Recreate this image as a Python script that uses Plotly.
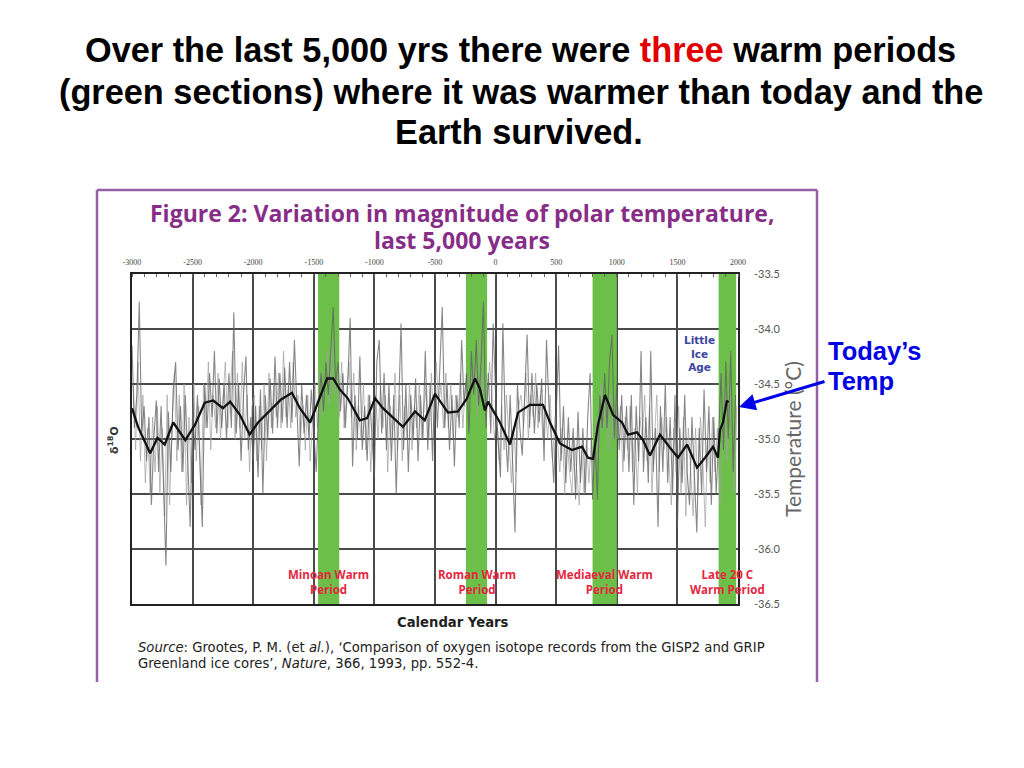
import plotly.graph_objects as go

# ---------------- data ----------------
raw_years = list(range(-3000, 2000, 20))
raw_temp = [
    -34.15, -34.9, -34.6, -33.75, -34.95, -34.7, -35.2, -34.8, -35.6, -35.0,
    -34.65, -35.3, -34.7, -35.4, -36.15, -34.75, -35.3, -34.55, -34.3, -35.1,
    -34.7, -35.3, -34.6, -35.2, -35.8, -34.75, -35.1, -34.6, -35.3, -35.8,
    -34.5, -34.9, -34.4, -34.8, -34.2, -34.95, -34.45, -34.9, -34.5, -35.0,
    -34.4, -34.9, -33.85, -34.95, -34.5, -35.2, -34.6, -34.25, -35.1, -34.8,
    -35.2, -34.7, -35.35, -34.55, -35.5, -34.6, -35.0, -34.45, -34.95, -34.25,
    -34.9, -34.4, -34.85, -34.35, -34.9, -34.3, -34.85, -34.1, -34.7, -35.25,
    -34.5, -34.95, -34.6, -35.0, -34.55, -34.9, -35.3, -34.7, -34.4, -34.75,
    -34.3, -34.6, -34.2, -33.8, -34.5, -34.3, -34.75, -34.4, -34.9, -34.5,
    -33.9, -35.25, -34.6, -35.0, -34.25, -35.1, -34.7, -35.2, -34.6, -35.0,
    -35.35, -34.3, -34.1, -34.95, -34.4, -35.1, -34.5, -35.2, -34.6, -35.5,
    -34.7, -33.95, -35.1, -34.5, -35.3, -34.6, -35.0, -34.45, -35.2, -34.6,
    -35.0, -34.2, -35.1, -34.5, -35.2, -34.4, -34.9, -34.3, -33.8, -34.9,
    -34.5, -35.1, -34.6, -35.25, -34.6, -34.9, -34.1, -34.7, -34.4, -34.95,
    -34.2, -34.6, -34.1, -34.7, -34.3, -33.75, -34.9, -34.4, -34.95, -33.95,
    -34.6, -35.0, -35.35, -33.95, -34.9, -35.3, -34.6, -35.2, -35.85, -34.5,
    -34.9, -35.15, -34.5, -34.05, -34.9, -34.4, -34.95, -34.5, -34.85, -34.45,
    -35.2, -34.1, -34.7, -35.0, -35.4, -34.8, -34.15, -35.2, -34.7, -35.4,
    -34.8, -35.3, -34.9, -35.55, -34.75, -35.4, -34.9, -35.5, -34.8, -34.4,
    -35.55, -35.0, -35.55, -34.6, -34.9, -34.4, -34.9, -34.3, -34.05, -35.0,
    -34.5, -35.1, -34.6, -35.2, -34.7, -35.3, -34.6, -35.6, -34.7, -35.2,
    -34.2, -35.3, -34.8, -35.4, -34.2, -35.3, -34.9, -35.8, -34.7, -35.3,
    -34.5, -35.4, -34.8, -35.5, -34.6, -35.8, -34.9, -35.4, -34.6, -35.3,
    -35.6, -34.8, -35.4, -35.85, -34.9, -35.5, -34.55, -35.3, -34.7, -35.6,
    -34.8, -35.5, -35.0, -34.4, -35.1, -34.3, -35.0, -34.2, -35.3, -34.6,
]

raw_years_b = list(range(-2990, 2000, 20))
raw_temp_b = [
    -34.5, -35.1, -34.3, -35.2, -34.6, -35.4, -34.9, -35.5, -34.8, -35.3,
    -34.7, -35.5, -34.9, -35.7, -34.6, -35.6, -34.9, -34.4, -35.2, -34.6,
    -35.3, -34.5, -35.6, -34.8, -35.4, -34.5, -35.2, -34.7, -35.6, -34.5,
    -34.9, -34.3, -35.1, -34.6, -34.9, -34.4, -35.0, -34.6, -34.3, -34.9,
    -34.6, -34.2, -35.0, -34.4, -34.9, -34.3, -35.0, -34.6, -35.3, -34.7,
    -34.6, -35.2, -34.7, -35.1, -34.5, -35.2, -34.4, -34.9, -34.5, -34.8,
    -34.4, -34.9, -34.2, -34.8, -34.5, -34.9, -34.3, -34.8, -34.6, -35.0,
    -34.7, -35.1, -34.6, -35.2, -34.8, -34.5, -34.9, -34.4, -34.8, -34.5,
    -34.2, -34.7, -34.1, -34.6, -34.4, -34.8, -34.3, -34.9, -34.6, -34.3,
    -34.8, -34.4, -35.1, -34.7, -35.0, -34.5, -35.1, -34.6, -35.3, -34.7,
    -34.6, -35.0, -34.5, -34.9, -34.6, -35.3, -34.7, -35.0, -34.4, -35.1,
    -34.6, -35.2, -34.7, -35.0, -34.5, -35.1, -34.7, -34.9, -34.5, -35.0,
    -34.7, -34.5, -35.0, -34.4, -34.9, -34.3, -34.7, -34.5, -34.9, -34.4,
    -34.9, -34.5, -35.0, -34.6, -34.8, -34.4, -34.9, -34.5, -34.7, -34.4,
    -34.5, -34.3, -34.8, -34.1, -34.6, -34.4, -34.7, -34.3, -34.6, -35.0,
    -34.8, -35.2, -34.7, -35.1, -34.6, -35.0, -35.4, -34.9, -35.3, -34.7,
    -34.6, -34.9, -34.4, -35.0, -34.6, -34.8, -34.4, -34.9, -34.6, -35.0,
    -34.7, -35.0, -34.6, -35.2, -34.8, -35.0, -35.3, -34.9, -35.5, -35.0,
    -35.3, -35.5, -35.0, -35.3, -35.6, -35.1, -35.5, -35.0, -35.4, -35.0,
    -35.3, -34.8, -35.2, -34.5, -34.9, -34.6, -35.1, -34.6, -35.0, -34.7,
    -35.0, -34.7, -35.3, -34.8, -35.1, -34.7, -35.3, -34.9, -35.5, -34.8,
    -35.0, -34.6, -35.2, -34.7, -35.5, -35.0, -34.6, -35.3, -34.8, -35.1,
    -34.8, -35.2, -35.6, -34.9, -35.3, -34.7, -35.5, -34.8, -35.7, -34.9,
    -35.3, -35.7, -34.9, -35.5, -34.8, -35.2, -35.8, -35.0, -35.4, -34.8,
    -35.3, -34.9, -35.6, -35.0, -34.6, -35.2, -34.5, -34.9, -35.5, -34.7,
]

smooth_years = [
    -3000, -2950, -2850, -2790, -2730, -2660, -2560, -2480, -2400, -2330,
    -2250, -2190, -2110, -2030, -1960, -1845, -1770, -1680, -1615, -1530,
    -1450, -1390, -1340, -1285, -1220, -1120, -1060, -995, -930, -845,
    -765, -665, -585, -500, -393, -310, -236, -170, -130, -88,
    -63, 36, 119, 185, 284, 391, 449, 531, 630, 713,
    762, 804, 845, 903, 969, 1043, 1093, 1167, 1216, 1274,
    1356, 1439, 1505, 1580, 1662, 1728, 1794, 1835, 1851, 1876,
    1909, 1920,
]
smooth_temp = [
    -34.72, -34.89, -35.13, -34.99, -35.05, -34.85, -35.01, -34.87, -34.67, -34.65,
    -34.72, -34.66, -34.78, -34.96, -34.85, -34.72, -34.64, -34.58, -34.72, -34.85,
    -34.63, -34.45, -34.45, -34.55, -34.63, -34.83, -34.81, -34.63, -34.72, -34.81,
    -34.89, -34.75, -34.83, -34.59, -34.76, -34.75, -34.63, -34.45, -34.54, -34.74,
    -34.66, -34.85, -35.05, -34.76, -34.69, -34.69, -34.85, -35.04, -35.10, -35.07,
    -35.17, -35.18, -34.87, -34.60, -34.78, -34.85, -34.96, -34.94, -35.01, -35.15,
    -34.96, -35.08, -35.17, -35.05, -35.26, -35.17, -35.07, -35.17, -34.92, -34.85,
    -34.65, -34.67,
]

warm_periods = [(-1465, -1290), (-245, -70), (800, 1000), (1840, 1985)]
warm_labels = ["Minoan Warm<br>Period", "Roman Warm<br>Period",
               "Mediaeval Warm<br>Period", "Late 20 C<br>Warm Period"]
x_ticks = list(range(-3000, 2001, 500))
y_ticks = [-33.5, -34.0, -34.5, -35.0, -35.5, -36.0, -36.5]
y_tick_text = ["-33.5", "-34.0", "-34.5", "-35.0", "-35.5", "-36.0", "-36.5"]

# ---------------- figure ----------------
W, H = 1024, 768
OFF = 8  # page margin in the browser
def px(x):
    return (x - OFF) / W
def py(y):
    return 1 - (y - OFF) / H

x_dom = [px(132), px(738)]
y_dom = [py(604), py(274)]

fig = go.Figure()
fig.add_trace(go.Scatter(x=raw_years_b, y=raw_temp_b, mode="lines",
                         line=dict(color="rgba(160,160,160,0.7)", width=1.0),
                         hoverinfo="skip", showlegend=False))
fig.add_trace(go.Scatter(x=raw_years, y=raw_temp, mode="lines",
                         line=dict(color="rgba(95,95,95,0.75)", width=1.1),
                         hoverinfo="skip", showlegend=False))
fig.add_trace(go.Scatter(x=smooth_years, y=smooth_temp, mode="lines",
                         line=dict(color="#111111", width=2.3),
                         hoverinfo="skip", showlegend=False))

shapes = []
for (a, b) in warm_periods:
    shapes.append(dict(type="rect", xref="x", yref="y", x0=a, x1=b, y0=-36.5, y1=-33.5,
                       fillcolor="#6cc04a", line=dict(width=0), layer="between"))
purple = "rgb(150,95,170)"
shapes += [
    dict(type="line", xref="paper", yref="paper", x0=px(97), x1=px(817), y0=py(190), y1=py(190),
         line=dict(color=purple, width=2.5)),
    dict(type="line", xref="paper", yref="paper", x0=px(97), x1=px(97), y0=py(190), y1=py(682),
         line=dict(color=purple, width=2.5)),
    dict(type="line", xref="paper", yref="paper", x0=px(817), x1=px(817), y0=py(190), y1=py(682),
         line=dict(color=purple, width=2.5)),
]

ann = []
def text(t, x, y, font, xanchor="center", yanchor="middle", xref="paper", **kw):
    ann.append(dict(text=t, x=x, y=y, xref=xref, yref="paper", showarrow=False,
                    xanchor=xanchor, yanchor=yanchor, font=font, **kw))

title_font = dict(family="Liberation Sans, Arial", size=34.3, color="black")
text("<b>Over the last 5,000 yrs there were <span style='color:#e00000'>three</span> warm periods</b>",
     px(520), py(50), title_font)
text("<b>(green sections) where it was warmer than today and the</b>", px(521), py(92), title_font)
text("<b>Earth survived.</b>", px(519), py(132), title_font)

inner_purple = "rgb(135,45,135)"
ifont = dict(family="Open Sans", size=23, color=inner_purple)
text("<b>Figure 2: Variation in magnitude of polar temperature,</b>", px(462), py(213), ifont)
text("<b>last 5,000 years</b>", px(462), py(240), ifont)

for (a, b), lab in zip(warm_periods, warm_labels):
    text("<b>" + lab + "</b>", (a + b) / 2, py(582), dict(family="Open Sans", size=11.5, color="rgb(228,38,64)"),
         xref="x", align="center")

text("<b>Little<br>Ice<br>Age</b>", px(699), py(354),
     dict(family="DejaVu Sans", size=10.5, color="rgb(60,70,160)"), align="center")

text("<b>δ<sup>18</sup>O</b>", px(113), py(440), dict(family="DejaVu Sans", size=11, color="#333"), textangle=-90)

text("<b>Calendar Years</b>", px(453), py(622), dict(family="DejaVu Sans", size=13.2, color="#222"))
sfont = dict(family="DejaVu Sans", size=13.2, color="#222")
text("<i>Source</i>: Grootes, P. M. (et <i>al.</i>), ‘Comparison of oxygen isotope records from the GISP2 and GRIP",
     px(136), py(647), sfont, xanchor="left")
text("Greenland ice cores’, <i>Nature</i>, 366, 1993, pp. 552-4.", px(136), py(663), sfont, xanchor="left")

tfont = dict(family="Liberation Sans, Arial", size=25.5, color="rgb(0,0,230)")
text("<b>Today’s</b>", px(826), py(351), tfont, xanchor="left")
text("<b>Temp</b>", px(826), py(381), tfont, xanchor="left")
ann.append(dict(text="", x=px(739), y=py(407), xref="paper", yref="paper",
                ax=87, ay=-26, axref="pixel", ayref="pixel",
                showarrow=True, arrowhead=2, arrowsize=1.1, arrowwidth=3, arrowcolor="rgb(0,0,230)"))

grid_col = "#4a4a4a"
fig.update_layout(
    width=W, height=H,
    margin=dict(l=0, r=0, t=0, b=0),
    paper_bgcolor="white", plot_bgcolor="white",
    shapes=shapes, annotations=ann,
    xaxis=dict(domain=x_dom, range=[-3000, 2000], side="top", automargin=False,
               tickmode="array", tickvals=x_ticks, ticktext=[str(v) for v in x_ticks],
               tickfont=dict(family="Liberation Serif", size=8, color="#444"),
               ticklabelstandoff=4,
               showgrid=True, gridcolor=grid_col, gridwidth=1.6,
               showline=True, linecolor="#222", linewidth=1.5, mirror=True,
               ticks="", zeroline=False,
               minor=dict(dtick=100, ticks="inside", ticklen=3, tickcolor="#666", showgrid=False)),
    yaxis=dict(domain=y_dom, range=[-36.5, -33.5], side="right", automargin=False,
               tickmode="array", tickvals=y_ticks, ticktext=y_tick_text,
               tickfont=dict(family="Lato", size=11, color="#555"),
               ticklabelstandoff=12,
               showgrid=True, gridcolor=grid_col, gridwidth=1.6,
               showline=True, linecolor="#222", linewidth=1.5, mirror=True,
               ticks="", zeroline=False,
               title=dict(text="Temperature (°C)", font=dict(family="Lato", size=21, color="#666"),
                          standoff=6)),
)

fig.write_html("out.html")
